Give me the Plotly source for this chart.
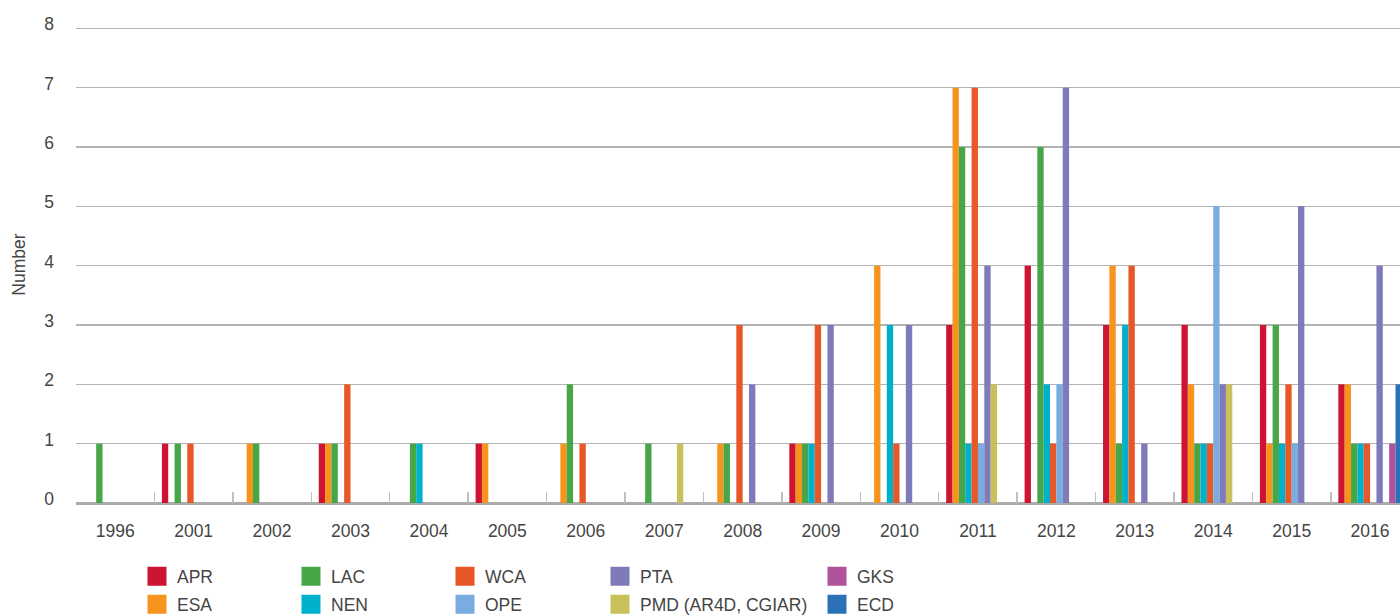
import plotly.graph_objects as go

years = ["1996", "2001", "2002", "2003", "2004", "2005", "2006", "2007", "2008",
         "2009", "2010", "2011", "2012", "2013", "2014", "2015", "2016"]

APR = [0, 1, 0, 1, 0, 1, 0, 0, 0, 1, 0, 3, 4, 3, 3, 3, 2]
ESA = [0, 0, 1, 1, 0, 1, 1, 0, 1, 1, 4, 7, 0, 4, 2, 1, 2]
LAC = [1, 1, 1, 1, 1, 0, 2, 1, 1, 1, 0, 6, 6, 1, 1, 3, 1]
NEN = [0, 0, 0, 0, 1, 0, 0, 0, 0, 1, 3, 1, 2, 3, 1, 1, 1]
WCA = [0, 1, 0, 2, 0, 0, 1, 0, 3, 3, 1, 7, 1, 4, 1, 2, 1]
OPE = [0, 0, 0, 0, 0, 0, 0, 0, 0, 0, 0, 1, 2, 0, 5, 1, 0]
PTA = [0, 0, 0, 0, 0, 0, 0, 0, 2, 3, 3, 4, 7, 1, 2, 5, 4]
PMD = [0, 0, 0, 0, 0, 0, 0, 1, 0, 0, 0, 2, 0, 0, 2, 0, 0]
GKS = [0, 0, 0, 0, 0, 0, 0, 0, 0, 0, 0, 0, 0, 0, 0, 0, 1]
ECD = [0, 0, 0, 0, 0, 0, 0, 0, 0, 0, 0, 0, 0, 0, 0, 0, 2]

series = [
    ("APR", APR, "#cd1433"),
    ("ESA", ESA, "#f7941d"),
    ("LAC", LAC, "#47a748"),
    ("NEN", NEN, "#00b1cc"),
    ("WCA", WCA, "#e85727"),
    ("OPE", OPE, "#7aaddf"),
    ("PTA", PTA, "#7f7ab9"),
    ("PMD (AR4D, CGIAR)", PMD, "#c8c15b"),
    ("GKS", GKS, "#b1529c"),
    ("ECD", ECD, "#2b71b8"),
]

# legend placement (column text left in px, row centre in px)
col_text_px = {"APR": 177, "ESA": 177, "LAC": 331, "NEN": 331, "WCA": 485, "OPE": 485,
               "PTA": 640, "PMD (AR4D, CGIAR)": 640, "GKS": 857, "ECD": 857}
row_px = {"APR": 577, "LAC": 577, "WCA": 577, "PTA": 577, "GKS": 577,
          "ESA": 605, "NEN": 605, "OPE": 605, "PMD (AR4D, CGIAR)": 605, "ECD": 605}

W, H = 1400, 615
Y_TOP = 8.04
unit_px = 475 / 8.0
zero_px = 503.5
ML, MR = 76, 0
MB = H - zero_px
MT = zero_px - Y_TOP * unit_px
PW = W - ML - MR
PH = H - MT - MB
cat_w = 78.43

FONT = "Liberation Sans, Arial, sans-serif"
FS = 17.5
TXT = "#454545"

fig = go.Figure()
for name, vals, color in series:
    fig.add_trace(go.Bar(name=name, x=years, y=vals, marker=dict(color=color, line=dict(width=0)),
                         showlegend=False))

layout_legends = {}
for i, (name, vals, color) in enumerate(series):
    key = "legend" if i == 0 else f"legend{i+1}"
    fig.add_trace(go.Scatter(name=name, x=[None], y=[None], mode="markers",
                             marker=dict(symbol="square", size=16, color=color,
                                         line=dict(width=3, color=color)),
                             legend=key, showlegend=True, hoverinfo="skip"))
    left_px = col_text_px[name] - 40
    layout_legends[key] = dict(
        x=(left_px - ML) / PW, xanchor="left",
        y=(H - MB - row_px[name]) / PH, yanchor="middle",
        orientation="v", font=dict(family=FONT, size=FS, color=TXT),
        bgcolor="rgba(0,0,0,0)", borderwidth=0, itemsizing="trace",
    )

fig.update_layout(
    width=W, height=H,
    margin=dict(l=ML, r=MR, t=MT, b=MB, pad=0, autoexpand=False),
    paper_bgcolor="white", plot_bgcolor="white",
    barmode="group", bargap=0.19, bargroupgap=0,
    font=dict(family=FONT, size=FS, color=TXT),
    **layout_legends,
)
fig.update_xaxes(
    type="category", categoryorder="array", categoryarray=years,
    range=[-0.5, -0.5 + PW / cat_w],
    showgrid=False, showline=True, linecolor="#ababab", linewidth=1.8,
    ticks="inside", tickson="boundaries", ticklen=11, tickwidth=1.5, tickcolor="#c0c0c0",
    ticklabelstandoff=11, tickfont=dict(family=FONT, size=FS, color=TXT),
    automargin=False, fixedrange=True,
)
fig.update_yaxes(
    range=[0, Y_TOP], tickmode="array", tickvals=[0, 1, 2, 3, 4, 5, 6, 7, 8],
    showgrid=True, gridcolor="#b3b3b3", gridwidth=1.5,
    zeroline=True, zerolinecolor="#ababab", zerolinewidth=1.8,
    showline=False, ticks="",
    ticklabelstandoff=21, ticklabelshift=-4, tickfont=dict(family=FONT, size=FS, color=TXT),
    title=dict(text="Number", font=dict(family=FONT, size=FS, color=TXT), standoff=14),
    automargin=False, fixedrange=True,
)

fig.write_html(
    "out.html",
    config=dict(displayModeBar=False, staticPlot=True),
    post_script="document.body.style.margin='0px';document.body.style.overflow='hidden';",
)
